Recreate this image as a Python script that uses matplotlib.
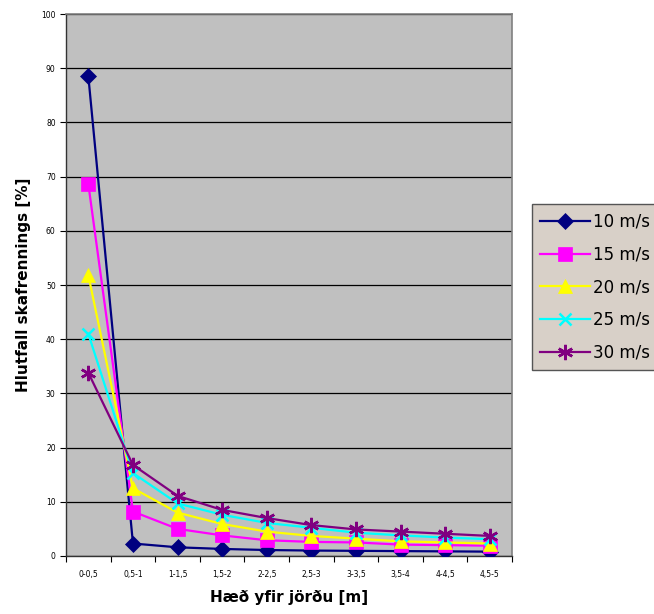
import matplotlib
matplotlib.use("Agg")
import matplotlib.pyplot as plt

flokkar = ["0-0,5", "0,5-1", "1-1,5", "1,5-2", "2-2,5",
           "2,5-3", "3-3,5", "3,5-4", "4-4,5", "4,5-5"]

vindur_10 = [88.5, 2.3, 1.6, 1.3, 1.1, 1.0, 0.95, 0.9, 0.85, 0.8]
vindur_15 = [68.6, 8.2, 5.0, 3.8, 2.9, 2.6, 2.5, 2.1, 2.0, 1.9]
vindur_20 = [51.8, 12.5, 8.0, 5.9, 4.5, 3.7, 3.2, 2.7, 2.5, 2.3]
vindur_25 = [41.0, 15.3, 9.7, 7.6, 6.1, 5.2, 4.3, 3.8, 3.4, 3.1]
vindur_30 = [33.8, 16.8, 11.1, 8.5, 7.0, 5.7, 4.9, 4.5, 4.1, 3.7]

rodir = [
    ("10 m/s", vindur_10, "#000080", "D", 8.5),
    ("15 m/s", vindur_15, "#FF00FF", "s", 10),
    ("20 m/s", vindur_20, "#FFFF00", "^", 10),
    ("25 m/s", vindur_25, "#00FFFF", "x", 9),
    ("30 m/s", vindur_30, "#800080", (6, 2, 0), 11),
]

fig = plt.figure(figsize=(6.54, 6.14), dpi=100)
ax = fig.add_axes([0.101, 0.0945, 0.682, 0.8825])
ax.set_facecolor("#C0C0C0")

x = list(range(len(flokkar)))
for nafn, gildi, litur, merki, staerd in rodir:
    ax.plot(x, gildi, color=litur, lw=1.6, marker=merki, markersize=staerd,
            markeredgewidth=1.8 if merki in ("x", (6, 2, 0)) else 0.5,
            markeredgecolor=litur, markerfacecolor=litur, label=nafn,
            zorder=3)

ax.set_xlim(-0.5, len(flokkar) - 0.5)
ax.set_ylim(0, 100)
ax.set_yticks(range(0, 101, 10))
ax.yaxis.grid(True, color="black", lw=0.9)
ax.set_axisbelow(True)

# flokkaheiti undir miðju, strik á mörkum flokka
ax.set_xticks(x)
ax.set_xticklabels(flokkar, fontsize=5.5)
ax.tick_params(axis="x", which="major", length=0, pad=10)
ax.set_xticks([i - 0.5 for i in range(len(flokkar) + 1)], minor=True)
ax.tick_params(axis="x", which="minor", length=4, direction="out", width=0.8)
ax.tick_params(axis="y", labelsize=5.5, length=4, width=0.8)

for hlid in ("top", "right"):
    ax.spines[hlid].set_color("#808080")
    ax.spines[hlid].set_linewidth(1.2)
for hlid in ("left", "bottom"):
    ax.spines[hlid].set_color("#333333")
    ax.spines[hlid].set_linewidth(1.0)

ax.set_xlabel("Hæð yfir jörðu [m]", fontsize=11, fontweight="bold", labelpad=8)
ax.set_ylabel("Hlutfall skafrennings [%]", fontsize=11, fontweight="bold", labelpad=7)

leg = fig.legend(loc="upper left", bbox_to_anchor=(0.813, 0.667),
                 fontsize=12, frameon=True, fancybox=False, handlelength=3.0,
                 handletextpad=0.2, labelspacing=0.88, borderpad=0.5,
                 borderaxespad=0)
leg.get_frame().set_facecolor("#D8D0C8")
leg.get_frame().set_edgecolor("#555555")
leg.get_frame().set_linewidth(1.0)
leg.get_frame().set_alpha(1)

fig.savefig("out.png", dpi=100)
